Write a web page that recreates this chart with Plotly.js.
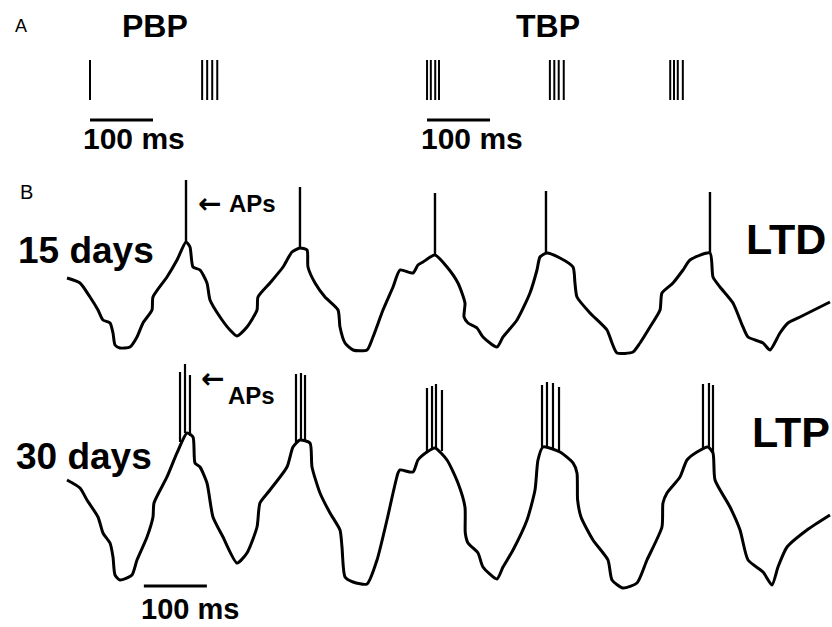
<!DOCTYPE html>
<html>
<head>
<meta charset="utf-8">
<script src="https://cdn.plot.ly/plotly-3.0.1.min.js"></script>
<style>html,body{margin:0;padding:0;background:#fff;}#chart{width:832px;height:627px;}</style>
</head>
<body>
<div id="chart"></div>
<script>
// ---------- Panel A: stimulation protocols (spike times, ms) ----------
var pbpSpikes = [0, 178, 186, 194, 202];
var tbpSpikes = [535, 541, 548, 554, 730, 737, 744, 752, 921, 927, 933, 941];
var scaleA_PBP = [0, 100];      // ms
var scaleA_TBP = [535, 635];    // ms

// ---------- Panel B: 15 days (LTD) membrane potential ----------
var t15 = [0, 20.6, 36.5, 49.2, 57.1, 68.3, 73.0, 76.2, 84.1, 100, 111.1, 120.6, 134.9, 136.5, 158.7, 174.6, 188.9,
  195.2, 200, 211.1, 222.2, 227, 242.9, 258.7, 269.8, 285.7, 301.6, 303.2, 322.2, 342.9, 357.1, 369.8,
  381, 382.5, 393.7, 409.5, 430.2, 433.3, 441.3, 454, 476.2, 485.7, 501.6, 517.5, 528.6, 549.2, 557.1, 565.1, 584.1,
  603.2, 620.6, 631.7, 630.2, 636.5, 650.8, 660.3, 682.5, 692.1, 714.3, 734.9, 746, 750.8, 761.9,
  782.5, 803.2, 806.3, 809.5, 830.2, 857.1, 865.1, 873, 898.4, 909.5, 925.4, 941.3, 944.4, 961.9, 977.8, 988.9, 1020.6,
  1025.4, 1036.5, 1057.1, 1073, 1081, 1104.8, 1115.9, 1131.7, 1144.4, 1163.5, 1211.1];
var v15 = [-34, -36.5, -43.5, -50, -55, -56.5, -61.5, -67.5, -69, -68.5, -63.5, -56.5, -50, -43.5, -33.5, -25, -16,
  -18.5, -28.5, -30, -36.5, -45, -53.5, -60, -63, -58.5, -50, -43.5, -36.5, -28.5, -21, -19,
  -20, -28.5, -36.5, -43.5, -50, -58.5, -66.5, -70, -70, -63.5, -50, -38.5, -30, -31.5, -27.5, -26, -22.5,
  -28.5, -36.5, -46.5, -53.5, -56.5, -59, -63.5, -68.5, -63.5, -55, -41.5, -30, -23.5, -21.5,
  -24, -28.5, -36.5, -43.5, -51.5, -60, -66.5, -71.5, -71, -66.5, -58.5, -50, -41.5, -36.5, -30, -25, -21.5,
  -33.5, -38.5, -46.5, -58.5, -63.5, -66.5, -70, -61.5, -56.5, -53.5, -46];
var ap15Time = [188.9, 369.8, 584.1, 760.3, 1020.6];
var ap15Base = [-16, -19, -22.5, -21.5, -21.5];
var ap15Peak = [15, 11.5, 8.5, 9.5, 9];

// ---------- Panel B: 30 days (LTP) membrane potential ----------
var t30 = [0, 20.6, 31.7, 49.2, 57.1, 68.3, 73.0, 76.2, 84.1, 103.2, 111.1, 127, 136.5, 138.1, 158.7, 174.6, 190.5,
  200, 203.2, 211.1, 222.2, 231.7, 247.6, 269.8, 285.7, 301.6, 306.3, 322.2, 349.2, 358.7, 369.8,
  385.7, 388.9, 401.6, 417.5, 433.3, 436.5, 441.3, 454, 476.2, 492.1, 507.9, 525.4, 528.6, 549.2, 557.1, 571.4, 584.1,
  603.2, 620.6, 631.7, 632.2, 636.5, 652.4, 660.3, 682.5, 692.1, 708, 730.2, 742.9, 747.6, 755.6,
  782.5, 803.2, 809.5, 810.5, 815.9, 834.9, 858.7, 865.1, 882.5, 904.8, 920.6, 944.4, 946, 952.4, 973, 984.1, 1000, 1017.5,
  1025.4, 1028.6, 1052.4, 1068.3, 1081, 1104.8, 1119, 1128.6, 1142.9, 1174.6, 1211.1];
var v30 = [-18, -22, -28, -36.5, -44.5, -49.5, -56.5, -65.5, -68, -65.5, -58, -46.5, -36.5, -29.5, -16.5, -4.5, 5.5,
  3.5, -9.5, -11.5, -19.5, -36.5, -46.5, -59.5, -54.5, -41.5, -29.5, -23, -11.5, -1.5, 2,
  0.5, -11.5, -24.5, -34.5, -43, -51.5, -66.5, -69, -70, -58, -38, -14.5, -13, -14, -8, -4, -2,
  -8, -19.5, -31.5, -44.5, -49.5, -54.5, -61.5, -67.5, -61.5, -53, -38, -23, -8, -1.5,
  -4, -9.5, -14.5, -28, -36.5, -48, -58, -68, -72, -69.5, -58, -41.5, -29.5, -24.5, -16.5, -8, -4, -1.5,
  -4.5, -18, -31.5, -43, -58, -64, -70.5, -61.5, -51.5, -43, -35.5];
var ap30Time = [179.4, 187.3, 195.2, 363.5, 371.4, 377.8, 571.4, 579.4, 585.7, 595.2, 754, 761.9, 771.4, 781, 1009.5, 1019, 1025.4];
var ap30Base = [1, 5.5, 4, 1, 2, 1.5, -4, -3, -2, -3.5, -1.5, -1.5, -2.5, -3.5, -2.5, -1.5, -4.5];
var ap30Peak = [36, 40, 34.5, 35, 35.5, 34.5, 28, 29, 30, 27, 29.5, 31, 30.5, 28.5, 30, 30.5, 29.5];
var scaleB = [122, 222];        // ms
var scaleB_level = -71;         // mV

// ---------- helpers ----------
function vlines(times, lo, hi) {
  var x = [], y = [];
  for (var i = 0; i < times.length; i++) {
    x.push(times[i], times[i], null);
    y.push(Array.isArray(lo) ? lo[i] : lo, Array.isArray(hi) ? hi[i] : hi, null);
  }
  return {x: x, y: y};
}
var ink = '#000';
var traces = [];
var rA = vlines(pbpSpikes.concat(tbpSpikes), 0, 1);
traces.push({x: rA.x, y: rA.y, xaxis: 'x2', yaxis: 'y3', mode: 'lines', line: {color: ink, width: 2}, hoverinfo: 'skip'});
traces.push({x: scaleA_PBP, y: [-0.5, -0.5], xaxis: 'x2', yaxis: 'y3', mode: 'lines', line: {color: ink, width: 3}, hoverinfo: 'skip'});
traces.push({x: scaleA_TBP, y: [-0.5, -0.5], xaxis: 'x2', yaxis: 'y3', mode: 'lines', line: {color: ink, width: 3}, hoverinfo: 'skip'});

traces.push({x: t15, y: v15, xaxis: 'x', yaxis: 'y', mode: 'lines', line: {color: ink, width: 3, shape: 'spline', smoothing: 0.6}, hoverinfo: 'skip'});
var s15 = vlines(ap15Time, ap15Base, ap15Peak);
traces.push({x: s15.x, y: s15.y, xaxis: 'x', yaxis: 'y', mode: 'lines', line: {color: ink, width: 2.4}, hoverinfo: 'skip'});

traces.push({x: t30, y: v30, xaxis: 'x', yaxis: 'y2', mode: 'lines', line: {color: ink, width: 3, shape: 'spline', smoothing: 0.6}, hoverinfo: 'skip'});
var s30 = vlines(ap30Time, ap30Base, ap30Peak);
traces.push({x: s30.x, y: s30.y, xaxis: 'x', yaxis: 'y2', mode: 'lines', line: {color: ink, width: 2.2}, hoverinfo: 'skip'});
traces.push({x: scaleB, y: [scaleB_level, scaleB_level], xaxis: 'x', yaxis: 'y2', mode: 'lines', line: {color: ink, width: 3}, hoverinfo: 'skip'});

var W = 832, H = 627;
function ann(text, px, py, size, bold, family) {
  return {text: bold ? '<b>' + text + '</b>' : text, x: px / W, y: 1 - py / H, xref: 'paper', yref: 'paper',
    xanchor: 'center', yanchor: 'middle', showarrow: false,
    font: {family: family || 'Liberation Sans, Arial, sans-serif', size: size, color: ink}};
}
var hidden = {visible: false, showgrid: false, zeroline: false, fixedrange: true};
var layout = {
  width: W, height: H, margin: {l: 0, r: 0, t: 0, b: 0},
  paper_bgcolor: '#fff', plot_bgcolor: 'rgba(0,0,0,0)', showlegend: false,
  xaxis: Object.assign({}, hidden, {domain: [0, 1], range: [-106.35, 1214.3], anchor: 'y'}),
  yaxis: Object.assign({}, hidden, {domain: [0.4179, 0.7368], range: [-77.5, 22.5], anchor: 'x'}),
  yaxis2: Object.assign({}, hidden, {domain: [0.04306, 0.42584], range: [-78, 42], anchor: 'x'}),
  xaxis2: Object.assign({}, hidden, {domain: [0, 1], range: [-142.86, 1177.8], anchor: 'y3'}),
  yaxis3: Object.assign({}, hidden, {domain: [0.80064, 0.91228], range: [-0.625, 1.125], anchor: 'x2'}),
  annotations: [
    ann('A', 21, 26, 18, false),
    ann('PBP', 155, 26, 32, true),
    ann('TBP', 548, 26, 32, true),
    ann('100 ms', 134, 139, 30, true),
    ann('100 ms', 472, 138, 30, true),
    ann('B', 26, 192, 20, false),
    ann('\u2190', 209, 203, 28, true, 'DejaVu Sans, sans-serif'),
    ann('APs', 253, 203, 24, true),
    ann('15 days', 86, 250, 37, true),
    ann('LTD', 786, 239, 43, true),
    ann('\u2190', 212, 378, 28, true, 'DejaVu Sans, sans-serif'),
    ann('APs', 252, 395, 24, true),
    ann('30 days', 84, 456, 37, true),
    ann('LTP', 791, 432, 43, true),
    ann('100 ms', 190, 609, 29, true)
  ]
};
Plotly.newPlot('chart', traces, layout, {staticPlot: true, displayModeBar: false});
</script>
</body>
</html>
